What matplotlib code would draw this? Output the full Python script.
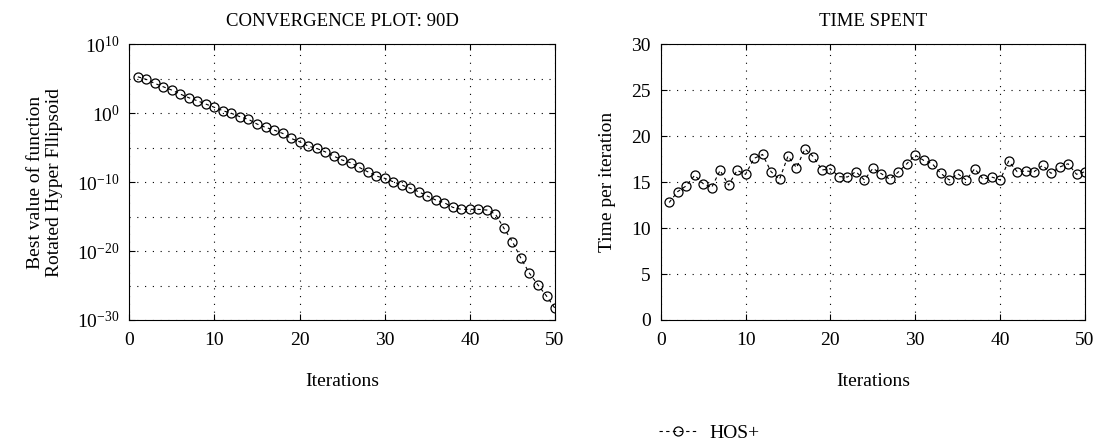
import matplotlib
matplotlib.use("Agg")
import matplotlib.pyplot as plt
from matplotlib.ticker import FixedLocator, NullFormatter
import numpy as np

plt.rcParams['font.family'] = ['Liberation Serif', 'DejaVu Serif']
plt.rcParams['mathtext.fontset'] = 'stix'

iterations = np.arange(1, 51)

# log10 of best function value per iteration
best_log10 = [5.26, 4.88, 4.30, 3.81, 3.33, 2.75, 2.22, 1.78, 1.30, 0.83,
              0.34, -0.04, -0.53, -0.91, -1.59, -2.07, -2.46, -2.94, -3.67, -4.16,
              -4.78, -5.12, -5.61, -6.23, -6.81, -7.20, -7.87, -8.51, -9.13, -9.46,
              -9.96, -10.43, -10.91, -11.41, -12.03, -12.61, -13.00, -13.67, -13.96, -13.96,
              -13.96, -14.06, -14.64, -16.71, -18.65, -21.06, -23.23, -24.93, -26.52, -28.31]
best_value = 10.0 ** np.array(best_log10)

time_per_iter = [12.78, 13.96, 14.58, 15.73, 14.83, 14.40, 16.27, 14.68, 16.27, 15.84,
                 17.57, 18.00, 16.13, 15.30, 17.82, 16.56, 18.61, 17.75, 16.31, 16.45,
                 15.59, 15.55, 16.13, 15.23, 16.49, 15.91, 15.30, 16.09, 16.99, 17.93,
                 17.35, 16.99, 15.95, 15.23, 15.91, 15.23, 16.45, 15.30, 15.55, 15.23,
                 17.28, 16.13, 16.20, 16.13, 16.81, 15.95, 16.63, 16.99, 15.84, 16.13]

log_ticks = [1e-30, 1e-20, 1e-10, 1e0, 1e10]
log_grid = [1e-25, 1e-15, 1e-5, 1e5]
x_ticks = [0, 10, 20, 30, 40, 50]
time_ticks = [0, 5, 10, 15, 20, 25, 30]

grid_style = dict(color='black', linestyle=(0, (1, 6)), linewidth=0.8)
line_style = dict(color='black', linestyle=(0, (3, 3)), linewidth=0.8,
                  marker='o', markersize=6.5, markerfacecolor='none',
                  markeredgecolor='black', markeredgewidth=0.9)

fig = plt.figure(figsize=(11.03, 4.45), dpi=100)
ax1 = fig.add_axes([0.1172, 0.2809, 0.386, 0.620])
ax2 = fig.add_axes([0.599, 0.2809, 0.3847, 0.620])

# convergence plot
ln, = ax1.semilogy(iterations, best_value, label='HOS+', **line_style)
ax1.set_xlim(0, 50)
ax1.set_ylim(1e-30, 1e10)
ax1.yaxis.set_major_locator(FixedLocator(log_ticks))
ax1.yaxis.set_minor_locator(FixedLocator(log_grid))
ax1.yaxis.set_minor_formatter(NullFormatter())
ax1.set_xticks(x_ticks)
ax1.grid(True, which='both', **grid_style)
ax1.tick_params(axis='y', which='minor', length=0)
ax1.set_title('CONVERGENCE PLOT: 90D', fontsize=13.5, pad=13)
ax1.set_xlabel('Iterations', fontsize=14, labelpad=17)
ax1.set_ylabel('Best value of function\nRotated Hyper Fllipsoid', fontsize=14,
               labelpad=10)

# time spent
ax2.plot(iterations, time_per_iter, **line_style)
ax2.set_xlim(0, 50)
ax2.set_ylim(0, 30)
ax2.set_xticks(x_ticks)
ax2.set_yticks(time_ticks)
ax2.grid(True, **grid_style)
ax2.set_title('TIME SPENT', fontsize=13.5, pad=13)
ax2.set_xlabel('Iterations', fontsize=14, labelpad=17)
ax2.set_ylabel('Time per iteration', fontsize=14, labelpad=11)

for ax in (ax1, ax2):
    ax.tick_params(which='major', direction='in', length=4, width=0.8,
                   top=True, right=True, labelsize=14)
    ax.tick_params(axis='x', pad=9)
    ax.tick_params(axis='y', pad=7)
    for sp in ax.spines.values():
        sp.set_linewidth(0.8)

fig.legend(handles=[ln], loc='center', bbox_to_anchor=(0.643, 0.027),
           frameon=False, fontsize=14, handlelength=2.0, handletextpad=0.6)

fig.savefig('out.png', dpi=100)
